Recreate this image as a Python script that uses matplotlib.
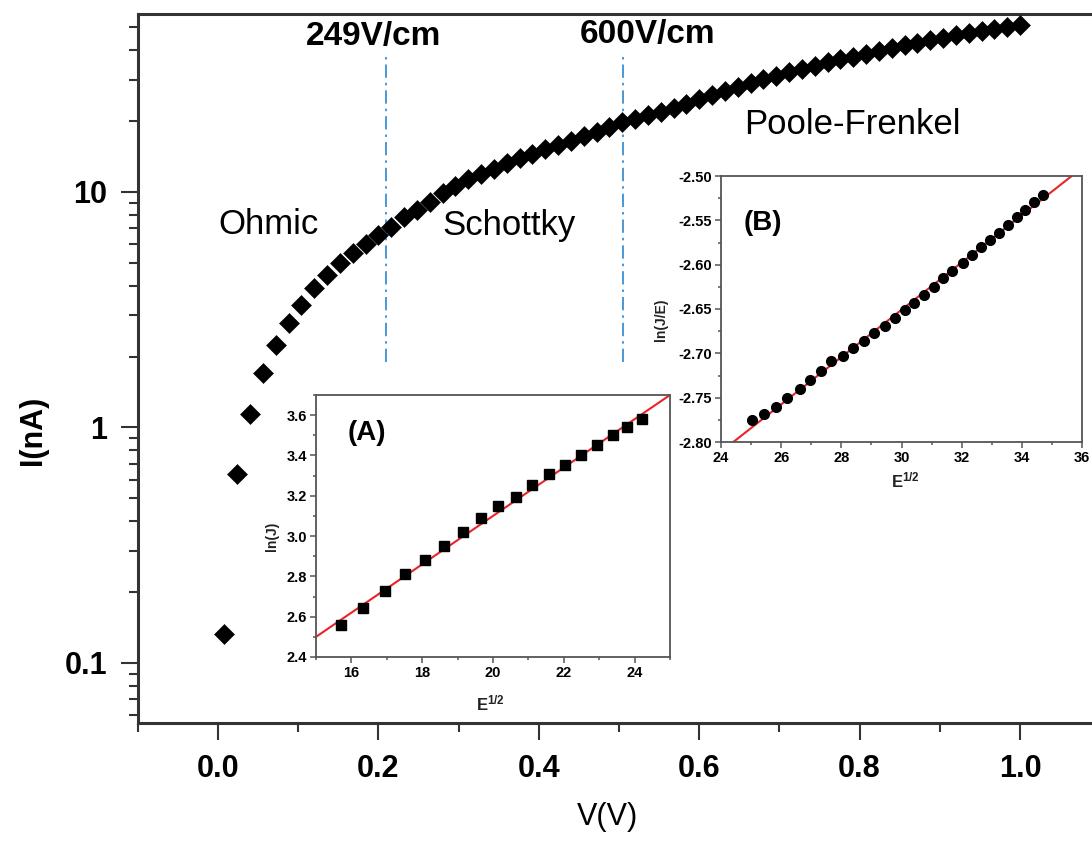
import matplotlib
matplotlib.use("Agg")
import matplotlib.pyplot as plt
from matplotlib.ticker import MultipleLocator, FixedLocator, FixedFormatter, FormatStrFormatter, LogLocator, NullFormatter
import numpy as np

plt.rcParams['font.family'] = ['Liberation Sans', 'DejaVu Sans']
plt.rcParams['axes.unicode_minus'] = False
plt.rcParams['mathtext.fontset'] = 'custom'
plt.rcParams['mathtext.rm'] = 'Liberation Sans'
plt.rcParams['mathtext.bf'] = 'Liberation Sans:bold'

# main I-V data
volt = [0.008, 0.024, 0.040, 0.056, 0.072, 0.088, 0.104, 0.120, 0.136, 0.152,
        0.168, 0.184, 0.200, 0.216, 0.232, 0.248, 0.264, 0.280, 0.296, 0.312,
        0.328, 0.344, 0.360, 0.376, 0.392, 0.408, 0.424, 0.440, 0.456, 0.472,
        0.488, 0.504, 0.520, 0.536, 0.552, 0.568, 0.584, 0.600, 0.616, 0.632,
        0.648, 0.664, 0.680, 0.696, 0.712, 0.728, 0.744, 0.760, 0.776, 0.792,
        0.808, 0.824, 0.840, 0.856, 0.872, 0.888, 0.904, 0.920, 0.936, 0.952,
        0.968, 0.984, 1.000]
current = [0.133, 0.635, 1.14, 1.70, 2.24, 2.77, 3.31, 3.90, 4.44, 4.98,
           5.49, 6.01, 6.56, 7.12, 7.81, 8.39, 9.10, 9.89, 10.6, 11.35,
           11.96, 12.58, 13.22, 13.91, 14.52, 15.16, 15.82, 16.52, 17.28, 18.06,
           18.89, 19.76, 20.47, 21.19, 21.94, 22.75, 23.71, 24.71, 25.74, 26.78,
           27.86, 28.97, 30.15, 31.20, 32.22, 33.27, 34.36, 35.49, 36.56, 37.61,
           38.69, 39.79, 40.93, 42.05, 43.07, 44.13, 45.21, 46.32, 47.45, 48.37,
           49.32, 50.25, 51.22]

# region boundaries (V)
v_bounds = [0.209, 0.505]
bound_labels = ['249V/cm', '600V/cm']

# inset A: Schottky plot
a_x = [15.70, 16.33, 16.94, 17.51, 18.08, 18.61, 19.14, 19.66, 20.15, 20.65,
       21.11, 21.59, 22.04, 22.49, 22.93, 23.38, 23.78, 24.21]
a_y = [2.558, 2.644, 2.729, 2.811, 2.880, 2.952, 3.020, 3.090, 3.151, 3.196,
       3.254, 3.306, 3.354, 3.402, 3.452, 3.502, 3.542, 3.583]
a_fit = [0.12, 0.70]   # slope, intercept

# inset B: Poole-Frenkel plot
b_x = [25.04, 25.43, 25.83, 26.21, 26.61, 26.96, 27.31, 27.67, 28.04, 28.39,
       28.76, 29.10, 29.45, 29.79, 30.11, 30.43, 30.76, 31.07, 31.38, 31.69,
       32.03, 32.34, 32.65, 32.95, 33.25, 33.55, 33.83, 34.12, 34.41, 34.70]
b_y = [-2.775, -2.768, -2.761, -2.750, -2.740, -2.730, -2.720, -2.709, -2.703, -2.694,
       -2.686, -2.677, -2.669, -2.660, -2.651, -2.643, -2.634, -2.625, -2.615, -2.607,
       -2.598, -2.589, -2.580, -2.572, -2.564, -2.555, -2.546, -2.538, -2.529, -2.521]
b_fit = [0.02667, -3.451]

W, H = 1092, 844
fig = plt.figure(figsize=(W / 100, H / 100), dpi=100)


def px(x0, y0, x1, y1):
    # pixel box -> figure fraction rect
    return [x0 / W, 1 - y1 / H, (x1 - x0) / W, (y1 - y0) / H]


def ftext(x, y, s, **kw):
    fig.text(x / W, 1 - y / H, s, ha='center', va='center', **kw)


spine_col = '#333333'

# ---------------- main axes ----------------
# right edge (1.1 V) lies just past the canvas, like the cropped original
ax = fig.add_axes(px(137.8, 14, 1100.2, 723))
ax.plot(volt, current, 'D', color='black', ms=10, mec='black', mew=0.4, zorder=3)
ax.set_yscale('log')
ax.set_xlim(-0.1, 1.1)
ax.set_ylim(0.0556, 57)

ax.xaxis.set_major_locator(FixedLocator([0.0, 0.2, 0.4, 0.6, 0.8, 1.0]))
ax.xaxis.set_major_formatter(FormatStrFormatter('%.1f'))
ax.xaxis.set_minor_locator(FixedLocator([-0.1, 0.1, 0.3, 0.5, 0.7, 0.9]))
ax.yaxis.set_major_locator(FixedLocator([0.1, 1, 10]))
ax.yaxis.set_major_formatter(FixedFormatter(['0.1', '1', '10']))
ax.yaxis.set_minor_locator(LogLocator(base=10, subs=np.arange(2, 10)))
ax.yaxis.set_minor_formatter(NullFormatter())

ax.tick_params(which='major', direction='out', length=12, width=1.5, color=spine_col,
               labelsize=22, pad=10, top=False, right=False)
ax.tick_params(which='minor', direction='out', length=6.5, width=1.5, color=spine_col,
               top=False, right=False)
for lab in ax.get_yticklabels() + ax.get_xticklabels():
    lab.set_fontweight('bold')
for sp in ax.spines.values():
    sp.set_linewidth(2.2)
    sp.set_color(spine_col)

ax.vlines(v_bounds, 1.90, 37.5, colors='#2a86d0', linewidth=1.2,
          linestyles=[(0, (8, 3, 1.5, 3))], zorder=2)

ftext(374, 37, bound_labels[0], fontsize=24, fontweight='bold')
ftext(648, 34, bound_labels[1], fontsize=24, fontweight='bold')
ftext(268, 225, 'Ohmic', fontsize=25)
ftext(509, 225, 'Schottky', fontsize=25)
ftext(852, 125, 'Poole-Frenkel', fontsize=25)

ftext(33, 430, 'I(nA)', fontsize=22, fontweight='bold', rotation=90)
ftext(607, 817, 'V(V)', fontsize=22)

# ---------------- inset A ----------------
red = '#e8232a'
inset_col = '#555555'

axA = fig.add_axes(px(316, 395, 670, 657))
axA.plot(a_x, a_y, 's', color='black', ms=6.5, zorder=3)
xx = np.array([15, 25])
axA.plot(xx, a_fit[0] * xx + a_fit[1], color=red, lw=1.5, zorder=2)
axA.set_xlim(15, 25)
axA.set_ylim(2.4, 3.7)
axA.xaxis.set_major_locator(FixedLocator([16, 18, 20, 22, 24]))
axA.xaxis.set_minor_locator(MultipleLocator(1))
axA.yaxis.set_major_locator(FixedLocator([2.4, 2.6, 2.8, 3.0, 3.2, 3.4, 3.6]))
axA.yaxis.set_major_formatter(FormatStrFormatter('%.1f'))
axA.yaxis.set_minor_locator(MultipleLocator(0.1))
axA.text(0.143, 0.855, '(A)', transform=axA.transAxes, fontsize=20, fontweight='bold',
         ha='center', va='center')

# ---------------- inset B ----------------
axB = fig.add_axes(px(721, 176, 1082, 442))
xb = np.array([24, 36])
axB.plot(xb, b_fit[0] * xb + b_fit[1], color=red, lw=1.5, zorder=2)
axB.plot(b_x, b_y, 'o', color='black', ms=7, zorder=3)
axB.set_xlim(24, 36)
axB.set_ylim(-2.80, -2.50)
axB.xaxis.set_major_locator(FixedLocator([24, 26, 28, 30, 32, 34, 36]))
axB.xaxis.set_minor_locator(MultipleLocator(1))
axB.yaxis.set_major_locator(FixedLocator([-2.80, -2.75, -2.70, -2.65, -2.60, -2.55, -2.50]))
axB.yaxis.set_major_formatter(FormatStrFormatter('%.2f'))
axB.yaxis.set_minor_locator(MultipleLocator(0.025))
axB.text(0.115, 0.825, '(B)', transform=axB.transAxes, fontsize=20, fontweight='bold',
         ha='center', va='center')

for a in (axA, axB):
    a.tick_params(which='major', direction='out', length=4, width=1.1, color=inset_col,
                  labelsize=10.5, pad=2.5, top=False, right=False)
    a.tick_params(which='minor', direction='out', length=2.2, width=1.1, color=inset_col,
                  top=False, right=False)
    for lab in a.get_xticklabels() + a.get_yticklabels():
        lab.set_fontweight('bold')
    for sp in a.spines.values():
        sp.set_linewidth(1.3)
        sp.set_color(inset_col)

ftext(272, 536, 'ln(J)', fontsize=10, fontweight='bold', rotation=90, color='#222222')
ftext(490, 703, r'$\mathbf{E^{1/2}}$', fontsize=12, color='#222222')
ftext(661, 320, 'ln(J/E)', fontsize=10, fontweight='bold', rotation=90, color='#222222')
ftext(905, 480, r'$\mathbf{E^{1/2}}$', fontsize=12, color='#222222')

fig.savefig('out.png', dpi=100)
